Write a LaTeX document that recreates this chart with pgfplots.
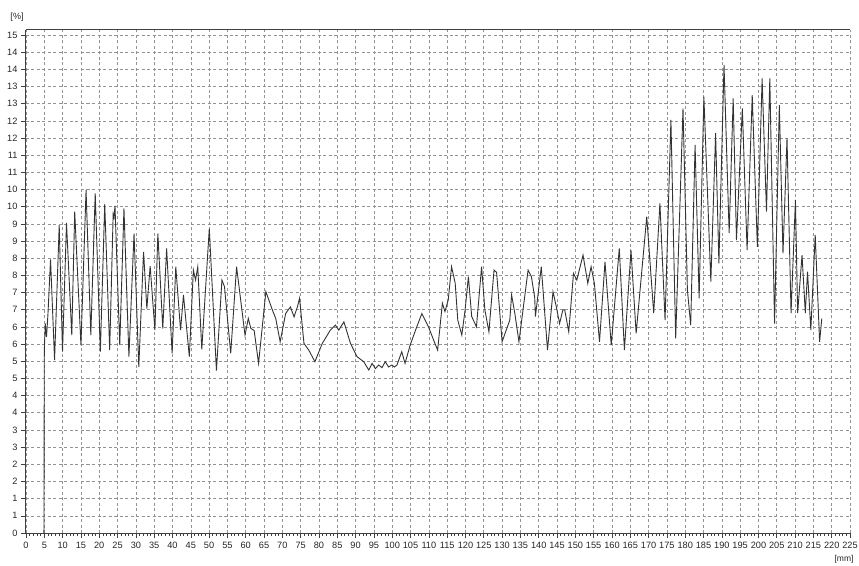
\documentclass[border=0pt]{standalone}
\usepackage{fontspec}
\setmainfont{Liberation Sans}
\usepackage{pgfplots}
\pgfplotsset{compat=1.18}
\begin{document}
\begin{tikzpicture}
\begin{axis}[name=ax, scale only axis, width=824pt, height=503pt,
  xmin=0, xmax=225, ymin=0, ymax=15.15,
  axis x line*=box, axis y line*=left,
  xtick={0,5,...,225}, xtick pos=bottom, ytick pos=left,
  ytick={0,0.51724,1.03448,1.55172,2.06897,2.58621,3.10345,3.62069,4.13793,4.65517,5.17241,5.68966,6.2069,6.72414,7.24138,7.75862,8.27586,8.7931,9.31034,9.82759,10.34483,10.86207,11.37931,11.89655,12.41379,12.93103,13.44828,13.96552,14.48276,15},
  yticklabels={0,1,1,2,2,3,3,4,4,5,5,6,6,7,7,8,8,9,9,10,10,11,11,12,12,13,13,14,14,15},
  minor x tick num=4, minor y tick num=3,
  grid=major,
  major grid style={gray!85, line width=0.6pt, dash pattern=on 3pt off 2.5pt},
  tick label style={font=\fontsize{9.2}{11}\selectfont, text=black!85},
  xticklabel style={yshift=-1pt},
  /pgf/number format/assume math mode=true,
  tick align=outside, major tick length=5pt, minor tick length=2.5pt,
  axis line style={black!75, line width=1pt},
  every tick/.style={black!75, line width=0.6pt},
]
\addplot[black!80, line width=0.9pt, mark=none] coordinates {
(4.9,0) (5.0,5.5) (5.26,6.31) (5.6,5.9) (6.0,6.6) (6.7,8.24) (7.8,5.21)
(9.07,9.27) (9.97,5.46) (11.06,9.34) (12.5,5.96) (13.3,9.68) (15.0,5.66)
(16.4,10.33) (17.7,5.96) (18.9,10.23) (20.3,5.46) (21.5,9.91) (22.85,5.51)
(23.8,9.6) (24.0,9.5) (24.3,9.85) (25.6,5.66) (26.75,9.78) (28.1,5.31)
(29.5,9.02) (30.8,5.0) (32.1,8.47) (33.0,6.76) (33.9,8.04) (35.2,6.11)
(36.0,9.02) (37.35,6.16) (38.4,8.57) (39.9,5.41) (40.9,8.02) (42.2,6.11)
(43.0,7.17) (44.6,5.31) (45.7,7.92) (46.3,7.62) (46.9,8.02) (48.0,5.53)
(50.05,9.17) (52.0,4.89) (53.5,7.62) (54.2,7.42) (55.9,5.41) (57.5,8.02)
(59.8,5.96) (60.7,6.46) (61.4,6.16) (62.3,6.1) (63.5,5.11) (65.5,7.27)
(67.3,6.71) (68.2,6.46) (69.4,5.76) (70.9,6.61) (72.2,6.81) (73.2,6.51)
(74.1,6.81) (74.7,7.07) (75.9,5.71) (77.2,5.51) (78.9,5.16) (80.9,5.71)
(83.1,6.11) (84.5,6.26) (85.4,6.11) (86.8,6.36) (88.6,5.71) (90.4,5.31)
(92.2,5.16) (93.6,4.91) (94.5,5.11) (95.4,4.95) (96.3,5.06) (97.2,4.98)
(98.1,5.16) (99.0,5.0) (99.9,5.06) (100.6,5.0) (101.3,5.06) (102.6,5.46)
(103.5,5.11) (104.9,5.66) (106.7,6.21) (108.1,6.61) (109.9,6.21) (111.3,5.81)
(112.4,5.51) (113.7,6.92) (114.4,6.67) (115.3,7.02) (116.2,8.02) (117.2,7.52)
(117.9,6.41) (119.0,5.96) (119.9,6.72) (120.8,7.72) (121.7,6.52) (123.0,6.21)
(124.4,8.02) (125.3,6.72) (126.4,6.06) (127.8,7.92) (128.5,7.85) (130.0,5.76)
(132.1,6.41) (132.6,7.17) (133.5,6.6) (134.6,5.76) (137.1,7.92) (138.0,7.72)
(138.9,7.1) (139.1,6.52) (140.7,8.02) (142.4,5.51) (143.9,7.27) (144.8,6.82)
(145.7,6.31) (146.6,6.72) (147.1,6.72) (148.2,6.06) (149.5,7.82) (150.4,7.62)
(152.1,8.37) (153.4,7.52) (154.3,8.02) (155.2,7.52) (156.6,5.76) (158.1,8.17)
(159.8,5.66) (162.0,8.57) (163.4,5.51) (165.2,8.52) (166.6,6.01) (169.5,9.53)
(171.4,6.62) (173.1,9.93) (174.5,6.41) (176.1,12.44) (177.4,5.86) (179.4,12.79)
(180.6,7.32) (181.5,6.26) (182.7,11.69) (183.8,7.07) (185.1,13.14) (187.0,7.57)
(188.3,12.04) (189.2,8.12) (190.6,14.10) (192.0,9.03) (193.1,13.09) (194.0,8.82)
(195.6,12.79) (196.9,8.52) (198.3,13.19) (199.7,8.62) (201.0,13.69) (202.2,9.68)
(203.1,13.69) (204.4,6.31) (205.7,12.89) (206.7,8.42) (207.8,11.89) (208.9,6.62)
(210.1,10.03) (210.7,6.62) (211.9,8.37) (212.8,6.62) (213.4,7.87) (214.3,6.11)
(215.5,8.98) (216.7,5.76) (217.3,6.46)
};
\end{axis}
\node[font=\fontsize{9}{10}\selectfont, text=black!85] at ([shift={(-9pt,13pt)}]ax.north west) {[\%]};
\node[font=\fontsize{8.5}{10}\selectfont, text=black!85] at ([shift={(-6pt,-26pt)}]ax.south east) {[mm]};
\pgfresetboundingbox
\path[use as bounding box] ([shift={(-26pt,-32pt)}]ax.south west) rectangle ([shift={(9pt,30pt)}]ax.north east);
\end{tikzpicture}
\end{document}
